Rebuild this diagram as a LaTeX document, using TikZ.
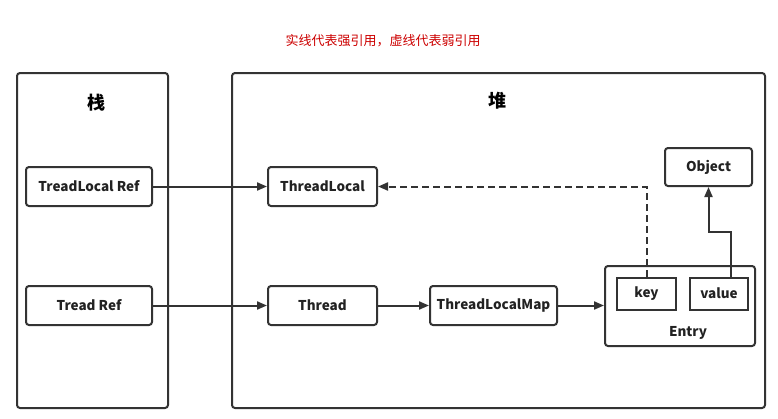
\documentclass[tikz,border=0pt]{standalone}
\usepackage{fontspec}
\setmainfont{Noto Sans CJK SC}
\usetikzlibrary{arrows.meta}
\definecolor{ln}{HTML}{333333}
\definecolor{tx}{HTML}{222222}
\definecolor{rd}{HTML}{CC0000}
\begin{document}
\begin{tikzpicture}[x=1pt,y=-1pt,
  area/.style={draw=ln,line width=2pt,rounded corners=3pt},
  box/.style={draw=ln,line width=2pt,rounded corners=3pt,inner sep=0pt,
    font=\fontsize{13.5}{15}\selectfont\bfseries,text=tx},
  sqbox/.style={draw=ln,line width=2pt,inner sep=0pt,
    font=\fontsize{13.5}{15}\selectfont\bfseries,text=tx},
  conn/.style={draw=ln,line width=2pt,-{Triangle[length=10pt,width=8pt]}},
  lbl/.style={inner sep=0pt,text=tx}]
\useasboundingbox (0,0) rectangle (778,418);
\node[lbl,text=rd,font=\fontsize{13}{15}\selectfont] (title) at (383,41) {实线代表强引用，虚线代表弱引用};
% areas
\draw[area] (17,73) rectangle (168,408);
\draw[area] (232,73) rectangle (765,408);
\node[lbl,font=\fontsize{18}{20}\selectfont\bfseries,text=black] (stack) at (96,103) {栈};
\node[lbl,font=\fontsize{18}{20}\selectfont\bfseries,text=black] (heap) at (497,101) {堆};
% nodes
\node[box,minimum width=126pt,minimum height=39pt] (tlr) at (89,186.5) {TreadLocal Ref};
\node[box,minimum width=126pt,minimum height=39pt] (tr) at (89,305.5) {Tread Ref};
\node[box,minimum width=109pt,minimum height=39pt] (tl) at (322.5,186.5) {ThreadLocal};
\node[box,minimum width=109pt,minimum height=39pt] (th) at (322.5,305.5) {Thread};
\node[box,minimum width=127pt,minimum height=39pt] (tlm) at (493.5,305.5) {ThreadLocalMap};
\node[box,minimum width=150pt,minimum height=80pt] (entry) at (680,306) {};
\node[lbl,font=\fontsize{13.5}{15}\selectfont\bfseries] (entrylbl) at (688,333) {Entry};
\node[sqbox,minimum width=59pt,minimum height=32pt] (key) at (646.5,293.5) {key};
\node[sqbox,minimum width=58pt,minimum height=32pt] (val) at (719,293.5) {value};
\node[box,minimum width=87pt,minimum height=38pt] (obj) at (708.5,167) {Object};
% connectors
\draw[conn] (tlr.east) -- (tl.west);
\draw[conn] (tr.east) -- (th.west);
\draw[conn] (th.east) -- (tlm.west);
\draw[conn] (tlm.east) -- (tlm.east -| entry.west);
\draw[conn,dashed,dash pattern=on 7pt off 4pt] (key.north) -- (key.north |- tl.east) -- (tl.east);
\coordinate (bend) at (731,232);
\draw[conn] (val.north -| bend) -- (bend) -- (bend -| obj.south) -- (obj.south);
\end{tikzpicture}
\end{document}
